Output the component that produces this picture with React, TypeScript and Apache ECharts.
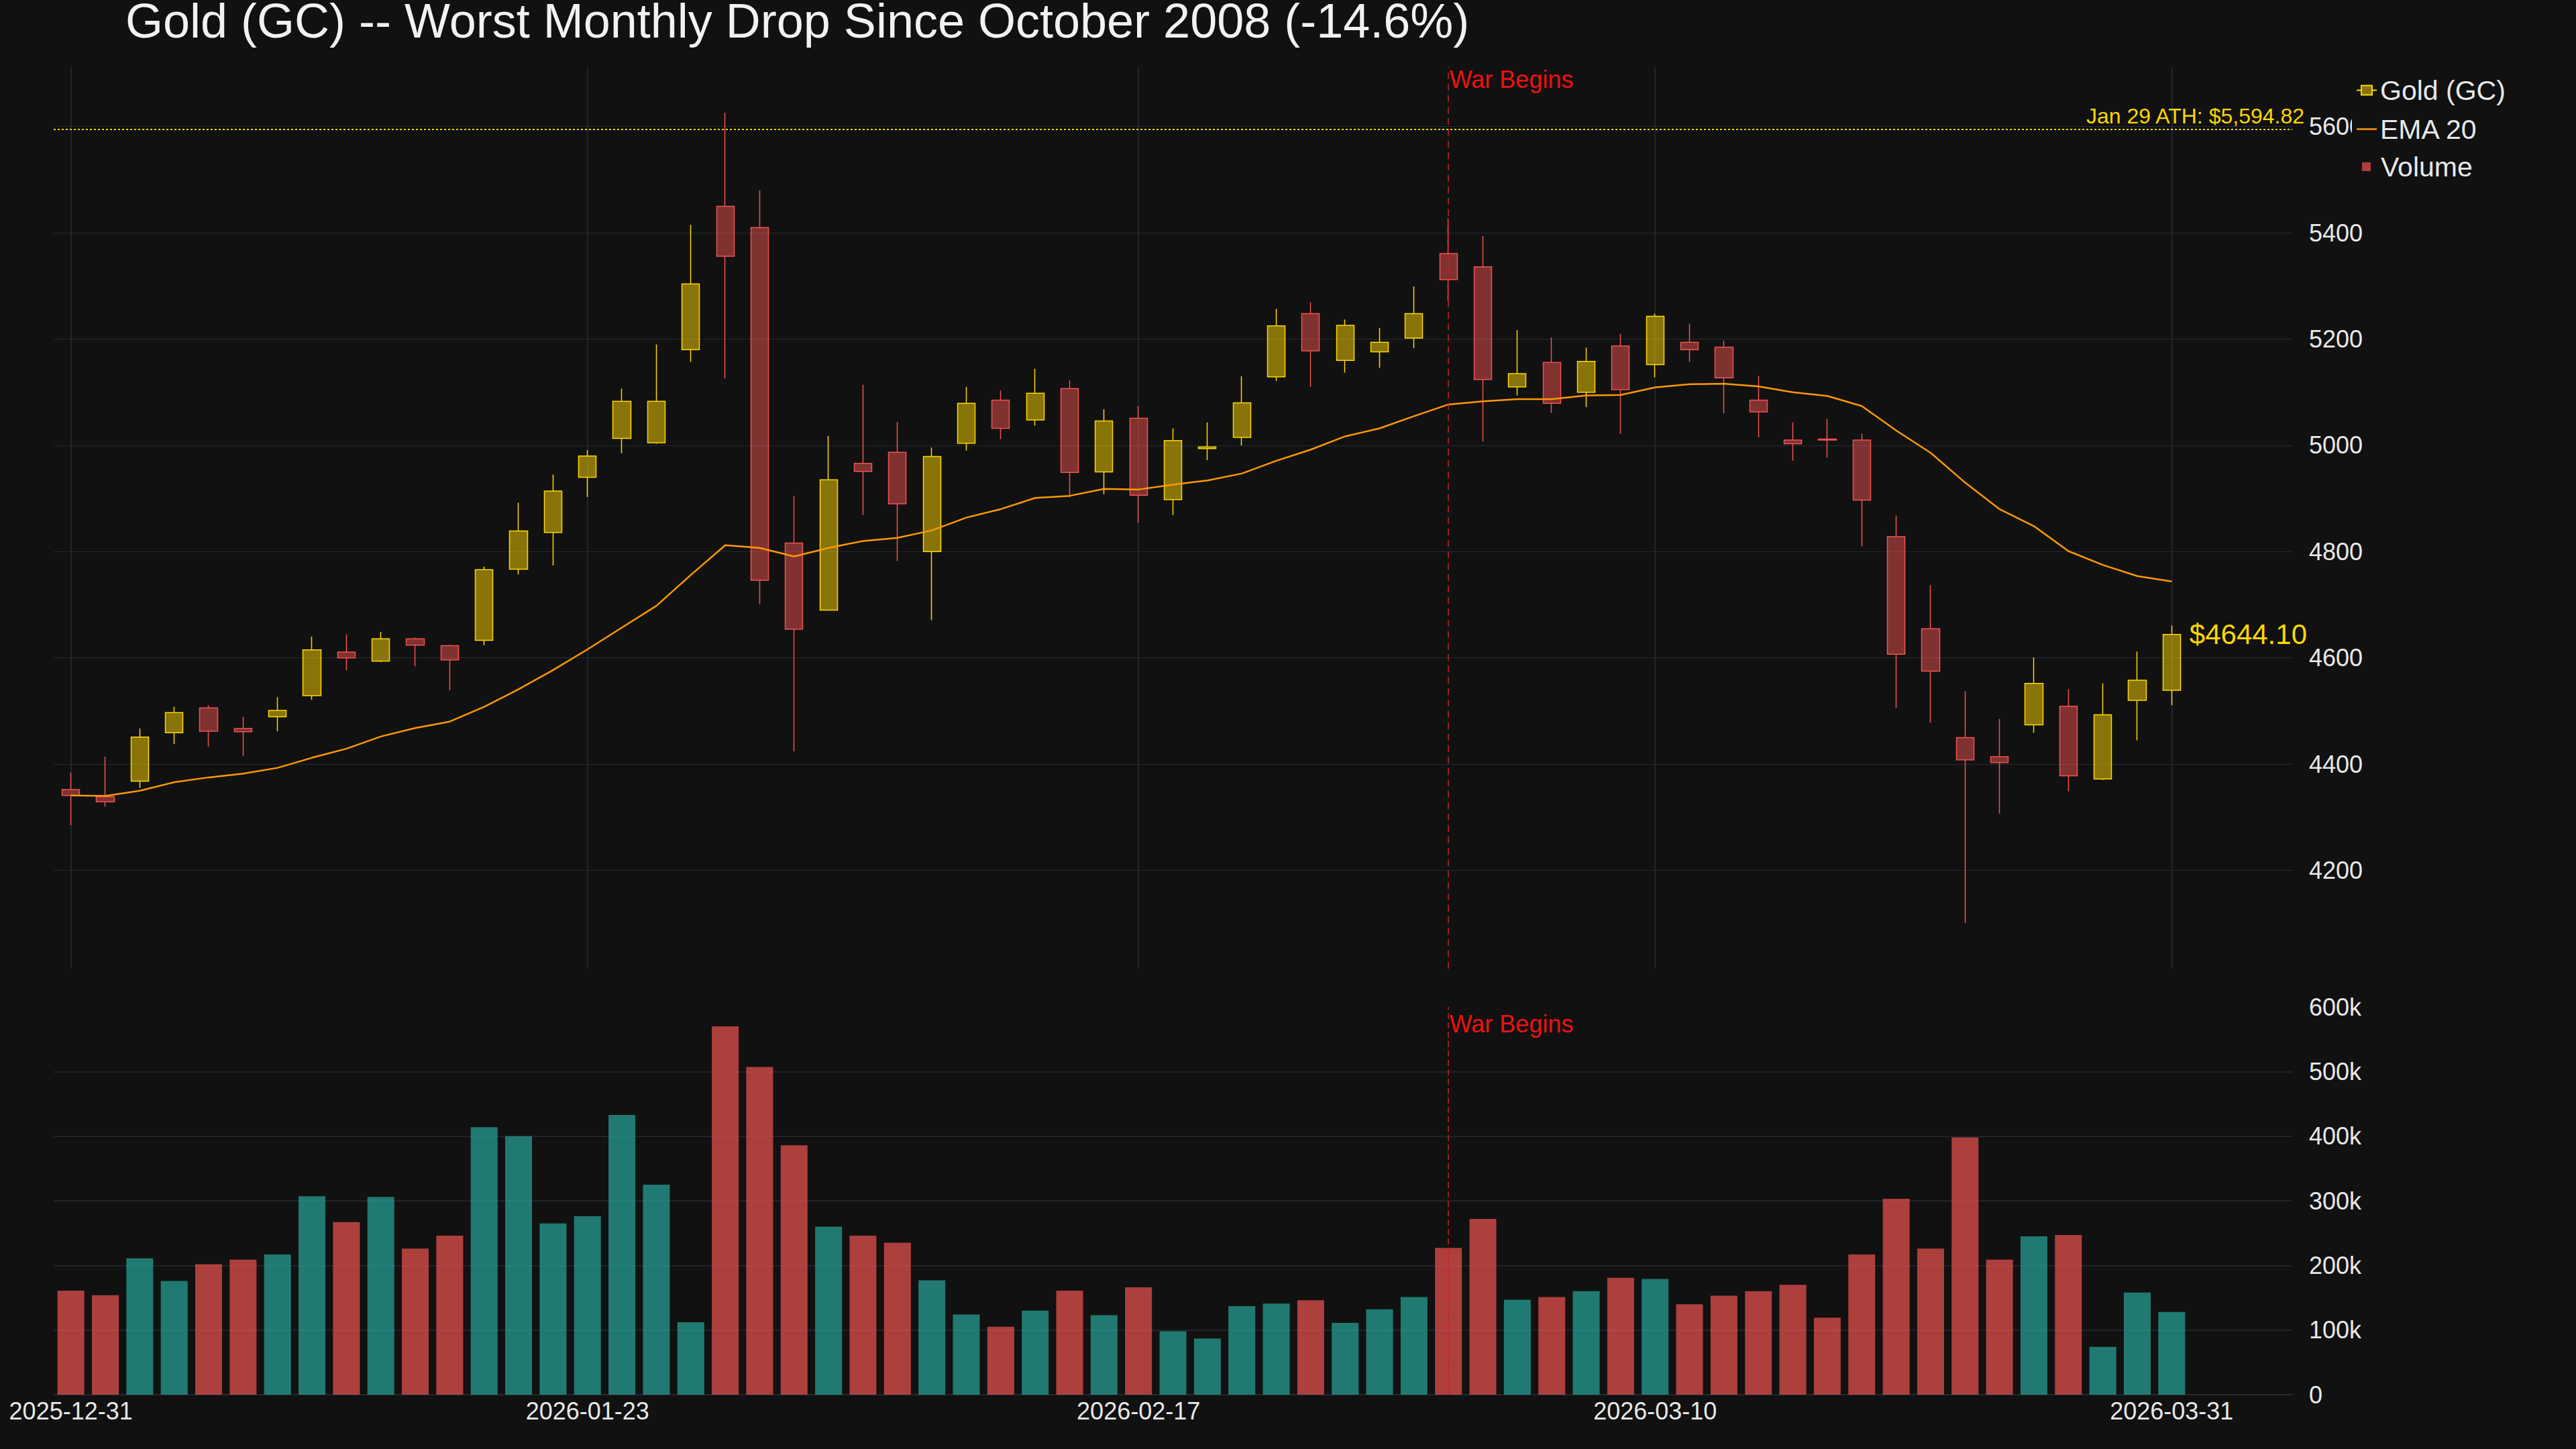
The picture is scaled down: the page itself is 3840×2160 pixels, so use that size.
import React, { useEffect, useRef } from "react";
import * as echarts from "echarts";

const TITLE = "Gold (GC) -- Worst Monthly Drop Since October 2008 (-14.6%)";

const dates = [
  "2025-12-31", "2026-01-02", "2026-01-05", "2026-01-06", "2026-01-07", "2026-01-08", "2026-01-09",
  "2026-01-12", "2026-01-13", "2026-01-14", "2026-01-15", "2026-01-16", "2026-01-20", "2026-01-21",
  "2026-01-22", "2026-01-23", "2026-01-26", "2026-01-27", "2026-01-28", "2026-01-29", "2026-01-30",
  "2026-02-02", "2026-02-03", "2026-02-04", "2026-02-05", "2026-02-06", "2026-02-09", "2026-02-10",
  "2026-02-11", "2026-02-12", "2026-02-13", "2026-02-17", "2026-02-18", "2026-02-19", "2026-02-20",
  "2026-02-23", "2026-02-24", "2026-02-25", "2026-02-26", "2026-02-27", "2026-03-02", "2026-03-03",
  "2026-03-04", "2026-03-05", "2026-03-06", "2026-03-09", "2026-03-10", "2026-03-11", "2026-03-12",
  "2026-03-13", "2026-03-16", "2026-03-17", "2026-03-18", "2026-03-19", "2026-03-20", "2026-03-23",
  "2026-03-24", "2026-03-25", "2026-03-26", "2026-03-27", "2026-03-30", "2026-03-31",
];

const opens = [
  4352, 4339, 4368, 4459, 4506, 4467, 4489, 4529, 4611, 4594,
  4636, 4623, 4633, 4767, 4836, 4940, 5013, 5005, 5180, 5450,
  5410, 4816, 4690, 4966, 4987, 4800, 5004, 5085, 5048, 5107,
  4950, 5051, 4898, 4994, 5015, 5129, 5248, 5160, 5176, 5202,
  5361, 5336, 5110, 5156, 5100, 5187, 5152, 5194, 5185, 5085,
  5010, 5012, 5010, 4828, 4655, 4450, 4414, 4474, 4509, 4372,
  4520, 4539,
];

const closes = [
  4341, 4329, 4451, 4497, 4462, 4461, 4501, 4615, 4600, 4636,
  4624, 4596, 4766, 4839, 4914, 4980, 5083, 5083, 5304, 5356,
  4746, 4654, 4935, 4951, 4890, 4979, 5079, 5032, 5098, 4949,
  5046, 4906, 5009, 4997, 5080, 5225, 5178, 5226, 5194, 5248,
  5312, 5124, 5135, 5079, 5158, 5105, 5243, 5180, 5127, 5063,
  5003, 5010, 4897, 4607, 4575, 4408, 4403, 4552, 4378, 4493,
  4558, 4644.1,
];

const lows = [
  4285, 4320, 4355, 4438, 4433, 4415, 4462, 4521, 4577, 4592,
  4584, 4539, 4624, 4757, 4774, 4903, 4985, 5003, 5157, 5126,
  4701, 4424, 4689, 4869, 4782, 4671, 4990, 5012, 5037, 4902,
  4908, 4854, 4869, 4972, 5000, 5121, 5110, 5137, 5146, 5183,
  5272, 5007, 5094, 5061, 5072, 5022, 5128, 5157, 5060, 5015,
  4971, 4977, 4810, 4506, 4478, 4101, 4307, 4459, 4349, 4370,
  4445, 4511,
];

const highs = [
  4384, 4414, 4467, 4508, 4511, 4489, 4526, 4640, 4644, 4649,
  4638, 4625, 4772, 4892, 4945, 4991, 5107, 5190, 5415, 5626,
  5480, 4905, 5018, 5114, 5044, 4996, 5110, 5103, 5144, 5122,
  5068, 5074, 5032, 5043, 5130, 5257, 5269, 5237, 5221, 5299,
  5427, 5394, 5217, 5203, 5184, 5210, 5248, 5229, 5197, 5131,
  5043, 5050, 5022, 4868, 4737, 4537, 4485, 4601, 4541, 4552,
  4612, 4661,
];

const ema20 = [
  4341, 4340, 4350, 4366, 4375, 4382, 4393, 4412, 4429, 4452,
  4468, 4480, 4508, 4541, 4577, 4616, 4657, 4698, 4756, 4812,
  4807, 4791, 4807, 4820, 4826, 4840, 4864, 4880, 4901, 4905,
  4918, 4917, 4926, 4934, 4947, 4971, 4992, 5017, 5032, 5055,
  5077, 5083, 5087, 5087, 5094, 5095, 5109, 5115, 5116, 5111,
  5100, 5093, 5074, 5028, 4986, 4930, 4880, 4848, 4801, 4775,
  4754, 4744,
];

const volumes = [
  161000, 154000, 211000, 176000, 202000, 209000, 217000, 307000, 267000, 306000,
  226000, 246000, 414000, 400000, 265000, 276000, 433000, 325000, 112000, 570000,
  507000, 386000, 260000, 246000, 235000, 177000, 124000, 105000, 130000, 161000,
  123000, 166000, 98000, 87000, 137000, 141000, 146000, 111000, 132000, 151000,
  227000, 272000, 147000, 151000, 160000, 181000, 179000, 140000, 153000, 160000,
  170000, 119000, 217000, 303000, 226000, 398000, 209000, 245000, 247000, 74000,
  158000, 128000,
];

const xLabelDates = ["2025-12-31", "2026-01-23", "2026-02-17", "2026-03-10", "2026-03-31"];
const warDate = "2026-03-02";
const warText = "War Begins";
const athValue = 5594.82;
const athText = "Jan 29 ATH: $5,594.82";
const seriesNames = ["Gold (GC)", "EMA 20", "Volume"];

const FONT = "'Liberation Sans', Arial, Helvetica, sans-serif";
const BG = "#111111";
const GRID_COLOR = "#262a33";
const TEXT_COLOR = "#e8e8e8";
const GOLD = "#FFD700";
const UP_FILL = "rgba(255,215,0,0.5)";
const DOWN_FILL = "rgba(239,83,80,0.5)";
const DOWN_BORDER = "#EF5350";
const VOL_UP = "rgba(38,166,154,0.7)";
const VOL_DOWN = "rgba(239,83,80,0.7)";
const EMA_COLOR = "#FF9800";
const WAR_LINE = "#cc2222";
const WAR_TEXT = "#ee1111";

const PRICE_MIN = 4015;
const PRICE_MAX = 5712;
const VOL_MAX = 600000;

export default function App() {
  const ref = useRef<HTMLDivElement | null>(null);

  useEffect(() => {
    if (!ref.current) return;
    const chart = echarts.init(ref.current, null, { renderer: "svg" });

    const axisCats = [...dates, " ", "  ", "   "];
    const labelIdx = xLabelDates.map((d) => dates.indexOf(d));
    const showIdx = (i: number) => labelIdx.indexOf(i) >= 0;
    const lastIdx = dates.length - 1;

    const candleData = dates.map((_, i) => [opens[i], closes[i], lows[i], highs[i]]);
    const volData = volumes.map((v, i) => ({
      value: v,
      itemStyle: { color: closes[i] >= opens[i] ? VOL_UP : VOL_DOWN },
    }));

    const option: any = {
      animation: false,
      backgroundColor: BG,
      textStyle: { fontFamily: FONT },
      title: {
        text: TITLE,
        left: 187,
        top: 5,
        padding: 0,
        textStyle: {
          color: "#f2f2f2",
          fontSize: 72,
          lineHeight: 52,
          fontWeight: "normal",
          fontFamily: FONT,
        },
      },
      legend: [
        {
          data: [
            {
              name: seriesNames[0],
              icon: "path://M0,10H7M7,3H23V17H7ZM23,10H30",
              itemStyle: { color: UP_FILL, borderColor: GOLD, borderWidth: 2 },
            },
            {
              name: seriesNames[1],
              icon: "path://M0,0H30V2.5H0Z",
              itemStyle: { color: EMA_COLOR, borderWidth: 0 },
            },
          ],
          orient: "vertical",
          left: 3506,
          top: 108,
          padding: [6, 6, 6, 6],
          backgroundColor: BG,
          itemGap: 17,
          itemWidth: 30,
          itemHeight: 20,
          symbolKeepAspect: true,
          selectedMode: false,
          textStyle: { color: TEXT_COLOR, fontSize: 41, fontFamily: FONT },
        },
        {
          data: [{ name: seriesNames[2], icon: "rect", itemStyle: { color: VOL_DOWN } }],
          orient: "vertical",
          left: 3515,
          top: 222,
          padding: [6, 6, 6, 6],
          itemWidth: 13,
          itemHeight: 13,
          selectedMode: false,
          textStyle: { color: TEXT_COLOR, fontSize: 41, fontFamily: FONT, padding: [0, 0, 0, 10] },
        },
      ],
      grid: [
        { left: 80, right: 423, top: 100, bottom: 716, outerBoundsMode: "none" },
        { left: 80, right: 423, top: 1501, bottom: 81, outerBoundsMode: "none" },
      ],
      xAxis: [
        {
          type: "category",
          gridIndex: 0,
          data: axisCats,
          boundaryGap: true,
          axisLine: { show: false },
          axisTick: { show: false },
          axisLabel: { show: false },
          splitLine: {
            show: true,
            interval: (i: number) => showIdx(i),
            alignWithLabel: true,
            lineStyle: { color: "#272d38", width: 1.5 },
          },
        },
        {
          type: "category",
          gridIndex: 1,
          data: axisCats,
          boundaryGap: true,
          axisLine: { show: true, lineStyle: { color: "#2c313c", width: 1.5 } },
          axisTick: { show: false },
          splitLine: { show: false },
          axisLabel: {
            show: true,
            interval: (i: number) => showIdx(i),
            color: TEXT_COLOR,
            fontSize: 36,
            fontFamily: FONT,
            margin: 6,
          },
        },
      ],
      yAxis: [
        {
          type: "value",
          gridIndex: 0,
          position: "right",
          min: PRICE_MIN,
          max: PRICE_MAX,
          splitNumber: 8,
          minInterval: 200,
          maxInterval: 200,
          axisLine: { show: false },
          axisTick: { show: false },
          axisLabel: {
            color: TEXT_COLOR,
            fontSize: 36,
            fontFamily: FONT,
            margin: 25,
            showMinLabel: false,
            showMaxLabel: false,
            formatter: (v: number) => (v % 200 === 0 ? String(v) : ""),
          },
          splitLine: {
            show: true,
            showMinLine: false,
            showMaxLine: false,
            lineStyle: { color: GRID_COLOR, width: 1 },
          },
        },
        {
          type: "value",
          gridIndex: 1,
          position: "right",
          min: 0,
          max: VOL_MAX,
          interval: 100000,
          axisLine: { show: false },
          axisTick: { show: false },
          axisLabel: {
            color: TEXT_COLOR,
            fontSize: 36,
            fontFamily: FONT,
            margin: 25,
            formatter: (v: number) => (v === 0 ? "0" : v / 1000 + "k"),
          },
          splitLine: {
            show: true,
            showMinLine: false,
            showMaxLine: false,
            lineStyle: { color: GRID_COLOR, width: 1.5 },
          },
        },
      ],
      series: [
        {
          name: seriesNames[0],
          type: "candlestick",
          xAxisIndex: 0,
          yAxisIndex: 0,
          data: candleData,
          barWidth: "52%",
          itemStyle: {
            color: UP_FILL,
            color0: DOWN_FILL,
            borderColor: GOLD,
            borderColor0: DOWN_BORDER,
            borderWidth: 1.5,
          },
          markLine: {
            silent: true,
            symbol: ["none", "none"],
            label: { show: false },
            data: [
              {
                xAxis: warDate,
                lineStyle: { color: WAR_LINE, type: [10, 7], width: 1.5 },
                label: { show: false },
              },
              {
                yAxis: athValue,
                lineStyle: { color: GOLD, type: [3, 3], width: 2 },
                label: {
                  show: true,
                  position: "insideEndTop",
                  formatter: athText,
                  color: GOLD,
                  fontSize: 32,
                  fontFamily: FONT,
                  distance: 4,
                  offset: [22, 0],
                },
              },
            ],
          },
          markPoint: {
            silent: true,
            symbol: "rect",
            symbolSize: 1,
            itemStyle: { color: "rgba(0,0,0,0)" },
            data: [
              {
                coord: [warDate, PRICE_MAX],
                label: {
                  show: true,
                  position: [2, 1],
                  align: "left",
                  verticalAlign: "top",
                  formatter: warText,
                  color: WAR_TEXT,
                  fontSize: 36,
                  fontFamily: FONT,
                },
              },
              {
                coord: [dates[lastIdx], closes[lastIdx]],
                label: {
                  show: true,
                  position: "right",
                  distance: 26,
                  formatter: "$" + closes[lastIdx].toFixed(2),
                  color: GOLD,
                  fontSize: 42,
                  fontFamily: FONT,
                },
              },
            ],
          },
        },
        {
          name: seriesNames[1],
          type: "line",
          xAxisIndex: 0,
          yAxisIndex: 0,
          data: ema20,
          symbol: "none",
          showSymbol: false,
          color: EMA_COLOR,
          lineStyle: { color: EMA_COLOR, width: 2.5 },
          z: 3,
        },
        {
          name: seriesNames[2],
          type: "bar",
          xAxisIndex: 1,
          yAxisIndex: 1,
          data: volData,
          barWidth: "78%",
          itemStyle: { color: VOL_DOWN },
          markLine: {
            silent: true,
            symbol: ["none", "none"],
            label: { show: false },
            data: [
              {
                xAxis: warDate,
                lineStyle: { color: WAR_LINE, type: [9, 5], width: 1.5 },
                label: { show: false },
              },
            ],
          },
          markPoint: {
            silent: true,
            symbol: "rect",
            symbolSize: 1,
            itemStyle: { color: "rgba(0,0,0,0)" },
            data: [
              {
                coord: [warDate, VOL_MAX],
                label: {
                  show: true,
                  position: [2, 8],
                  align: "left",
                  verticalAlign: "top",
                  formatter: warText,
                  color: WAR_TEXT,
                  fontSize: 36,
                  fontFamily: FONT,
                },
              },
            ],
          },
        },
      ],
    };

    chart.setOption(option);
    return () => {
      chart.dispose();
    };
  }, []);

  return (
    <div
      ref={ref}
      style={{ position: "fixed", left: 0, top: 0, width: 3840, height: 2160, background: BG }}
    />
  );
}
